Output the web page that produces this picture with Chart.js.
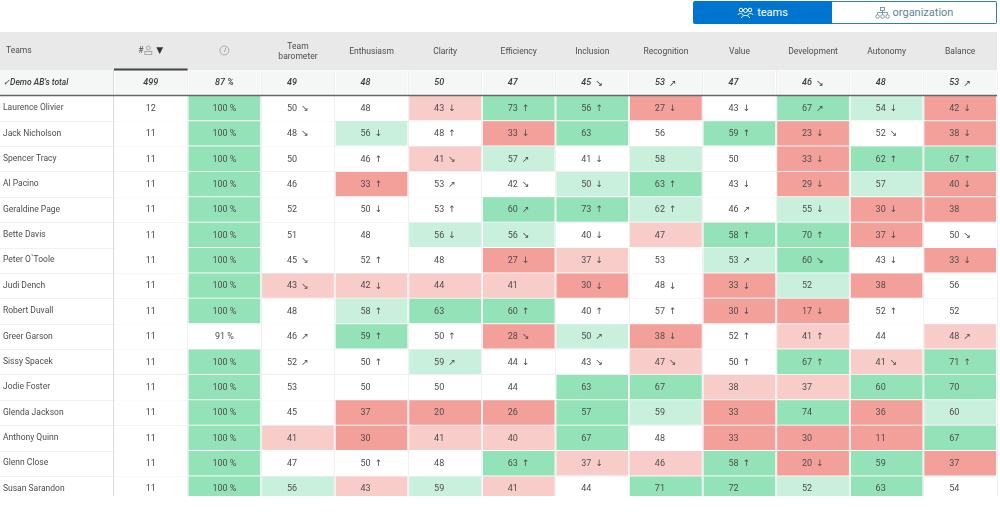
<!DOCTYPE html>
<html><head><meta charset="utf-8">
<style>
html,body{margin:0;padding:0;background:#fff;overflow:hidden;width:1000px;height:529px}
#c{position:absolute;left:0;top:0}
.btn{position:absolute;top:1px;height:23px;box-sizing:border-box;font:11px Roboto,sans-serif;display:flex;align-items:center;justify-content:center;gap:3px}
#b1{left:693px;width:139px;background:#0075d0;color:#fff;border-radius:2px 0 0 2px}
#b2{left:832px;width:165px;background:#fff;color:#5f8496;border:1px solid #2f7f9f;border-left:0;border-radius:0 2px 2px 0}
</style></head><body>
<canvas id="c" width="1000" height="529"></canvas>
<div class="btn" id="b1"><svg width="17" height="12" viewBox="0 0 17 12" fill="none" stroke="#fff" stroke-width="1"><circle cx="4" cy="3" r="1.8"/><circle cx="8.5" cy="3.5" r="2"/><circle cx="13" cy="3" r="1.8"/><path d="M1 8c0-2 5-2 5 0M4.5 11c0-3.500 8-3.500 8 0M11 8c0-2 5-2 5 0"/></svg>teams</div>
<div class="btn" id="b2"><svg width="15" height="12" viewBox="0 0 15 12" fill="none" stroke="#5f8496" stroke-width=".8"><rect x="5.500" y=".5" width="4" height="3"/><circle cx="2.500" cy="9.500" r="1.800"/><circle cx="7.500" cy="9.500" r="1.800"/><circle cx="12.500" cy="9.500" r="1.800"/><path d="M7.500 3.500v4M2.500 7.500v-2h10v2"/></svg>organization</div>
<script src="https://cdn.jsdelivr.net/npm/chart.js@4/dist/chart.umd.min.js"></script>
<script>
const rowLabels=["✓Demo AB's total","Laurence Olivier","Jack Nicholson","Spencer Tracy","Al Pacino","Geraldine Page","Bette Davis","Peter O`Toole","Judi Dench","Robert Duvall","Greer Garson","Sissy Spacek","Jodie Foster","Glenda Jackson","Anthony Quinn","Glenn Close","Susan Sarandon"];
const columnKeys=["#","Rate","Team barometer","Enthusiasm","Clarity","Efficiency","Inclusion","Recognition","Value","Development","Autonomy","Balance"];
const countValues=[499,12,11,11,11,11,11,11,11,11,11,11,11,11,11,11,11];
const rateValues=[87,100,100,100,100,100,100,100,100,100,91,100,100,100,100,100,100];
const rateBands="TGGGGGGGGG-GGGGGG";
const barometerValues=[49,50,48,50,46,52,51,45,43,48,46,52,53,45,41,47,56];
const barometerTrends=["","↘","↘","","","","","↘","↘","","↗","↗","","","","",""];
const barometerBands="T-------r-----r-g";
const enthusiasmValues=[48,48,56,46,33,50,48,52,42,58,59,50,50,37,30,50,43];
const enthusiasmTrends=["","","↓","↑","↑","↓","","↑","↓","↑","↑","↑","","","","↑",""];
const enthusiasmBands="T-g-R---rgG--RR-r";
const clarityValues=[50,43,48,41,53,53,56,48,44,63,50,59,50,20,41,48,59];
const clarityTrends=["","↓","↑","↘","↗","↑","↓","","","","↑","↗","","","","",""];
const clarityBands="Tr-r--g-rG-g-Rr-g";
const efficiencyValues=[47,73,33,57,42,60,56,27,41,60,28,44,44,26,40,63,41];
const efficiencyTrends=["","↑","↓","↗","↘","↗","↘","↓","","↑","↘","↓","","","","↑",""];
const efficiencyBands="TGRg-GgRrGR--RrGr";
const inclusionValues=[45,56,63,41,50,73,40,37,30,40,50,43,63,57,67,37,44];
const inclusionTrends=["↘","↑","","↓","↓","↑","↓","↓","↓","↑","↗","↘","","","","↓",""];
const inclusionBands="TGG-gG-rR-g-GGGr-";
const recognitionValues=[53,27,56,58,63,62,47,53,48,57,38,47,67,59,48,46,71];
const recognitionTrends=["↗","↓","","","↑","↑","","","↓","↑","↓","↘","","","","",""];
const recognitionBands="TR-gGgr---RrGg-rG";
const valueValues=[47,43,59,50,43,46,58,53,33,30,52,50,38,33,33,58,72];
const valueTrends=["","↓","↑","","↓","↗","↑","↗","↓","↓","↑","↑","","","","↑",""];
const valueBands="T-G---GgRR--rRRGG";
const developmentValues=[46,67,23,33,29,55,70,60,52,17,41,67,37,74,30,20,52];
const developmentTrends=["↘","↗","↓","↓","↓","↓","↑","↘","","↓","↑","↑","","","","↓",""];
const developmentBands="TGRRRgGGgRrGrGRRg";
const autonomyValues=[48,54,52,62,57,30,37,43,38,52,44,41,60,36,11,59,63];
const autonomyTrends=["","↓","↘","↑","","↓","↓","↓","","↑","","↘","","","","",""];
const autonomyBands="Tg-GgRR-R--rGRRGG";
const balanceValues=[53,42,38,67,40,38,50,33,56,52,48,71,70,60,67,37,54];
const balanceTrends=["↗","↓","↓","↑","↓","","↘","↓","","","↗","↑","","","","",""];
const balanceBands="TRRGRR-R--rGGgGR-";
const noTrends=rowLabels.map(()=>"");
const columnData=[
 [countValues,noTrends,"T-----------------",""],
 [rateValues,noTrends,rateBands," %"],
 [barometerValues,barometerTrends,barometerBands,""],
 [enthusiasmValues,enthusiasmTrends,enthusiasmBands,""],
 [clarityValues,clarityTrends,clarityBands,""],
 [efficiencyValues,efficiencyTrends,efficiencyBands,""],
 [inclusionValues,inclusionTrends,inclusionBands,""],
 [recognitionValues,recognitionTrends,recognitionBands,""],
 [valueValues,valueTrends,valueBands,""],
 [developmentValues,developmentTrends,developmentBands,""],
 [autonomyValues,autonomyTrends,autonomyBands,""],
 [balanceValues,balanceTrends,balanceBands,""]
];
const bandColors={T:"#f5f6f6",G:"#94e3b8",g:"#c8f0dc",R:"#f4a09a",r:"#f8cdc9","-":"#ffffff"};
const FF="Roboto, sans-serif", INK="#4d4d4d";
const cells=[];
columnData.forEach((col,c)=>col[0].forEach((v,r)=>{
  cells.push({x:columnKeys[c],y:[r-0.48,r+0.48],v,t:col[1][r],b:col[2][r],s:col[3],c,r});
}));
const headerLabels=["","",["Team","barometer"],"Enthusiasm","Clarity","Efficiency","Inclusion","Recognition","Value","Development","Autonomy","Balance"];

const tablePlugin={id:"table",
 beforeDraw(ch){
  const {ctx,scales:{x,y}}=ch;
  ctx.save();
  ctx.fillStyle="#e9e9e9"; ctx.fillRect(0,x.top,x.right,x.bottom-x.top);
  ctx.fillStyle="#f5f6f6"; ctx.fillRect(0,y.getPixelForValue(-0.5),x.left,y.getPixelForValue(0.5)-y.getPixelForValue(-0.5));
  ctx.strokeStyle="#f0f0f0"; ctx.lineWidth=1;
  rowLabels.forEach((_,i)=>{ if(i<1)return; const p=Math.round(y.getPixelForValue(i+0.5))+.5;
    if(p<y.bottom){ctx.beginPath();ctx.moveTo(0,p);ctx.lineTo(x.right,p);ctx.stroke();}});
  ctx.restore();
 },
 afterDatasetsDraw(ch){
  const {ctx,scales:{x,y}}=ch;
  const els=ch.getDatasetMeta(0).data;
  ctx.save();
  ctx.textBaseline="middle";
  els.forEach((el,i)=>{
    const d=cells[i], cy=y.getPixelForValue(d.r)+0.5;
    ctx.font=(d.r===0?"italic 500 ":"")+"9px "+FF;
    ctx.fillStyle=d.r===0?"#3c3c3c":INK;
    if(d.c<2){ctx.textAlign="center";ctx.fillText(d.v+d.s,el.x,cy);return;}
    ctx.textAlign="center";ctx.fillText(String(d.v),el.x-6,cy);
    if(d.t){ctx.font="9px 'DejaVu Sans'";ctx.fillText(d.t,el.x+7,cy);}
  });
  ctx.textAlign="left";ctx.font="8.5px "+FF;ctx.fillStyle=INK;
  const hy=x.top+18.5;
  ctx.fillText("Teams",6,hy);
  const c0=x.getPixelForTick(0), c1=x.getPixelForTick(1);
  ctx.textAlign="center";ctx.fillText("#",c0-10,hy);
  ctx.font="9px 'DejaVu Sans'";ctx.fillStyle="#333";ctx.fillText("▼",c0+9,hy);
  ctx.strokeStyle="#999";ctx.lineWidth=.8;
  ctx.beginPath();ctx.arc(c0-2.5,hy-2.5,2,0,7);ctx.stroke();
  ctx.strokeRect(c0-6,hy+1,7,3);
  ctx.beginPath();ctx.arc(c1,hy,4.5,0,7);ctx.moveTo(c1,hy+1.5);ctx.lineTo(c1+1.5,hy-3);ctx.stroke();
  ctx.strokeStyle="#666";ctx.lineWidth=1.3;
  const p=Math.round(y.getPixelForValue(0.5))+.5;
  ctx.beginPath();ctx.moveTo(0,p);ctx.lineTo(x.right,p);ctx.stroke();
  ctx.strokeStyle="#444";ctx.lineWidth=2;
  const w=(x.getPixelForTick(1)-x.getPixelForTick(0))/2;
  ctx.beginPath();ctx.moveTo(c0-w,x.bottom-.5);ctx.lineTo(c0+w,x.bottom-.5);ctx.stroke();
  ctx.restore();
 }};

new Chart(document.getElementById("c"),{
 type:"bar",
 data:{labels:columnKeys,datasets:[{data:cells,backgroundColor:cells.map(d=>bandColors[d.b]),borderWidth:0,categoryPercentage:1,barPercentage:0.975}]},
 plugins:[tablePlugin],
 options:{responsive:false,animation:false,devicePixelRatio:1,
  layout:{padding:{top:32,right:3,bottom:33,left:3}},
  plugins:{legend:{display:false},tooltip:{enabled:false},title:{display:false}},
  scales:{
   x:{type:"category",position:"top",
      afterFit(s){s.height=38;},
      border:{display:false},
      grid:{color:c=>c.index===0?"#dcdcdc":"#f0f0f0",drawTicks:false,tickLength:0},
      ticks:{autoSkip:false,maxRotation:0,minRotation:0,padding:13,crossAlign:"center",color:INK,font:{family:FF,size:8.5},
        callback(v,i){return headerLabels[i];}}},
   y:{type:"linear",reverse:true,min:-0.5,max:16.29,
      afterFit(s){s.width=111;},
      afterBuildTicks(s){s.ticks=rowLabels.map((_,i)=>({value:i}));},
      border:{display:false},grid:{display:false},
      ticks:{crossAlign:"far",padding:0,autoSkip:false,
        color:c=>c.index===0?"#3c3c3c":INK,
        font:c=>c.index===0?{family:FF,size:8.5,style:"italic",weight:"500"}:{family:FF,size:8.5},
        callback(v){return rowLabels[v];}}}
  }}
});
</script>
</body></html>
